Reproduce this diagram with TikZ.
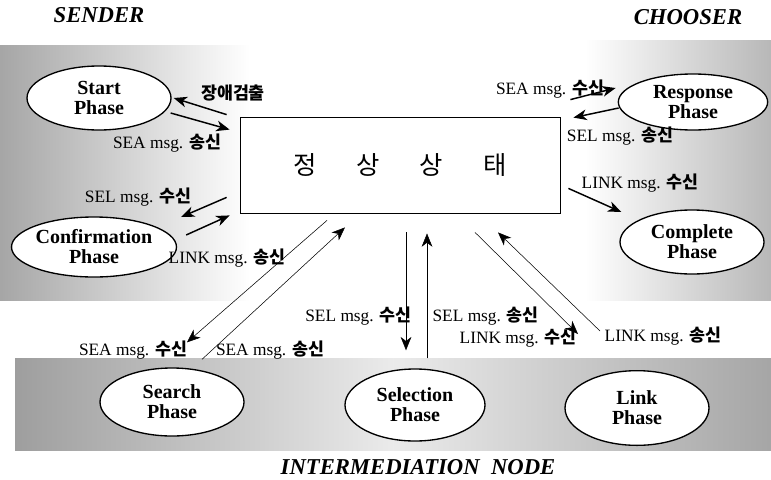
\documentclass[tikz,border=0pt]{standalone}
\usepackage{fontspec}
\setmainfont{Liberation Serif}
\newfontfamily\kr{Noto Sans CJK KR}
\usetikzlibrary{shapes.geometric,arrows.meta,calc}
\newcommand{\ko}[1]{{\kr\bfseries #1}}

\begin{document}
\begin{tikzpicture}[x=0.75pt,y=-0.75pt,
  phase/.style={ellipse,draw,line width=1pt,fill=white,inner sep=0pt,
    minimum width=108pt,minimum height=48pt,align=center,
    font=\fontsize{15}{15}\selectfont\bfseries},
  msg/.style={font=\fontsize{13}{15}\selectfont,inner sep=1pt},
  fat/.style={-{Stealth[length=10pt,width=8pt,inset=3pt]},line width=1.1pt},
  slim/.style={-{Stealth[length=10pt,width=8pt,inset=3pt]},line width=0.4pt},
  role/.style={font=\fontsize{17}{17}\selectfont\bfseries\itshape}]
\useasboundingbox (0,0) rectangle (771,479);

% scanned grey backdrop
\shade[left color=black!35,right color=white] (0,45) rectangle (250,300);
\shade[left color=white,right color=black!28] (585,40) rectangle (771,300);
\shade[left color=black!38,right color=black!35,middle color=black!8] (15,358) rectangle (771,450);

\node[role] (sender) at (99,15) {SENDER};
\node[role] (chooser) at (688,17) {CHOOSER};
\node[role] (inter) at (418,467) {INTERMEDIATION\ \ NODE};

\node[draw,line width=0.6pt,fill=white,minimum width=240pt,minimum height=72pt] (state) at (400,165)
  {\kr\fontsize{19}{19}\selectfont 정\hspace{30pt}상\hspace{30pt}상\hspace{30pt}태};

\node[phase] (start) at (99,98) {Start\\Phase};
\node[phase,minimum height=42pt,minimum width=112pt] (resp) at (693,102) {Response\\Phase};
\node[phase,minimum height=45pt] (conf) at (94,247) {Confirmation\\Phase};
\node[phase] (comp) at (692,242) {Complete\\Phase};
\node[phase,minimum height=51pt] (search) at (172,402) {Search\\Phase};
\node[phase,minimum height=54pt,minimum width=105pt] (select) at (415,405) {Selection\\Phase};
\node[phase,minimum height=56pt] (link) at (637,408) {Link\\Phase};

% sender side
\coordinate (s1) at ($(state.north west)+(-13,-2)$);
\coordinate (s2) at ($(state.north west)+(-10,13)$);
\draw[fat] (s1) -- ($(start.east)+(2,0)$);
\draw[fat] ($(start.east)+(-1,15)$) -- (s2);
\node[msg] (fault) at (233,93) {\ko{장애검출}};
\node[msg] (seaout1) at (167,143) {SEA msg. \ko{송신}};

\coordinate (c1) at ($(state.south west)+(-13,-16)$);
\coordinate (c2) at ($(state.south west)+(-10,2)$);
\draw[fat] (c1) -- ($(conf.east)+(4,-30)$);
\draw[fat] ($(conf.east)+(9,-12)$) -- (c2);
\node[msg] (selin1) at (138,197) {SEL msg. \ko{수신}};
\node[msg] (linkout1) at (227,258) {LINK msg. \ko{송신}};

% chooser side
\coordinate (r1) at ($(state.north east)+(10,-17)$);
\coordinate (r2) at ($(state.north east)+(13,1)$);
\draw[fat] (r1) -- ($(resp.west)+(-2,-14)$);
\draw[fat] ($(resp.west)+(1,6)$) -- (r2);
\node[msg] (seain1) at (550,89) {SEA msg. \ko{수신}};
\node[msg] (selout1) at (620,136) {SEL msg. \ko{송신}};

\coordinate (p1) at ($(state.south east)+(8,-25)$);
\draw[fat] (p1) -- ($(comp.west)+(2,-30)$);
\node[msg] (linkin1) at (640,183) {LINK msg. \ko{수신}};

% intermediation node
\coordinate (t1) at ($(state.south)+(-73,7)$);
\coordinate (t2) at ($(state.south)+(-55,14)$);
\draw[slim] (t1) -- ($(search.north)+(15,-25)$);
\draw[slim] ($(search.north)+(30,-8)$) -- (t2);
\node[msg] (seain2) at (133,350) {SEA msg. \ko{수신}};
\node[msg] (seaout2) at (270,350) {SEA msg. \ko{송신}};

\coordinate (t3) at ($(state.south)+(6,19)$);
\coordinate (t4) at ($(state.south)+(27,20)$);
\draw[slim] (t3) -- ($(select.north)+(-9,-18)$);
\draw[slim] ($(select.north)+(12,-10)$) -- (t4);
\node[msg,anchor=east] (selin2) at (413,316) {SEL msg. \ko{수신}};
\node[msg,anchor=west] (selout2) at (431,316) {SEL msg. \ko{송신}};

\coordinate (t5) at ($(state.south)+(75,19)$);
\coordinate (t6) at ($(state.south)+(98,19)$);
\draw[slim] (t5) -- ($(link.north)+(-59,-36)$);
\draw[slim] ($(link.north)+(-37,-39)$) -- (t6);
\node[msg] (linkin2) at (518,338) {LINK msg. \ko{수신}};
\node[msg] (linkout2) at (663,336) {LINK msg. \ko{송신}};
\end{tikzpicture}
\end{document}
